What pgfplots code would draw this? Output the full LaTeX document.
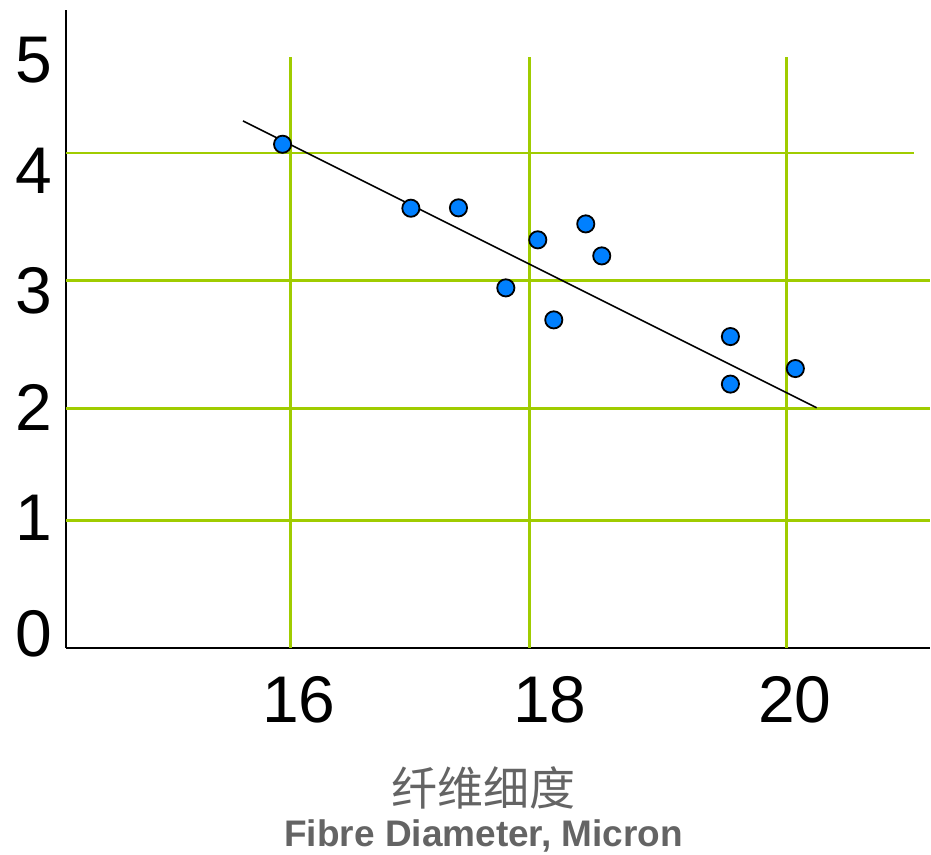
\documentclass[border=0pt]{standalone}
\usepackage{pgfplots}
\pgfplotsset{compat=1.18}
\usepackage{fontspec}
\setmainfont{Liberation Sans}
\newfontfamily\cjk{Noto Sans CJK SC}
\definecolor{gridgreen}{RGB}{160,204,0}
\definecolor{dotblue}{RGB}{0,128,255}
\definecolor{labgray}{RGB}{100,100,100}
\begin{document}
\begin{tikzpicture}
\begin{axis}[
  scale only axis,
  width=432pt, height=319pt,
  xmin=14.1855, xmax=21.153,
  ymin=0.1176, ymax=5.1216,
  axis lines*=left,
  axis line style={black, line width=1pt},
  clip=false,
  major tick length=0pt,
  /pgf/number format/assume math mode=true,
  ytick={4.729,3.859,2.918,2.0,1.137,0.227},
  yticklabels={5,4,3,2,1,0},
  xtick={16.065,18.089,20.065},
  xticklabels={16,18,20},
  ticklabel style={font=\fontsize{33}{36}\selectfont, inner sep=0pt},
  yticklabel style={anchor=east, xshift=-6.5pt},
  xticklabel style={anchor=north, yshift=-14pt},
]
% invisible frame: full picture extent
\path (axis cs:13.6532,-1.5059) rectangle (axis cs:21.1613,5.2);
% grid lines
\draw[gridgreen, line width=1.4pt] (axis cs:14.1855,4.0) -- (axis cs:21.03,4.0);
\draw[gridgreen, line width=1.4pt] (axis cs:14.1855,2.996) -- (axis cs:21.153,2.996);
\draw[gridgreen, line width=1.4pt] (axis cs:14.1855,1.992) -- (axis cs:21.153,1.992);
\draw[gridgreen, line width=1.4pt] (axis cs:14.1855,1.114) -- (axis cs:21.153,1.114);
\draw[gridgreen, line width=1.4pt] (axis cs:16,0.1176) -- (axis cs:16,4.753);
\draw[gridgreen, line width=1.4pt] (axis cs:17.927,0.1176) -- (axis cs:17.927,4.753);
\draw[gridgreen, line width=1.4pt] (axis cs:20,0.1176) -- (axis cs:20,4.753);
% trend line
\addplot[black, line width=0.8pt, no marks] coordinates {(15.613,4.251) (20.242,2.0)};
% data
\addplot[only marks, mark=*, mark size=4.3pt, mark options={fill=dotblue, draw=black, line width=0.9pt}] coordinates {
(15.933,4.068) (16.968,3.566) (17.352,3.569) (17.734,2.941) (17.992,3.318)
(18.121,2.690) (18.379,3.443) (18.508,3.192) (19.546,2.559) (19.546,2.186) (20.070,2.308)
};
\node[labgray, font=\cjk\fontsize{23}{26}\selectfont, inner sep=0pt] at (axis cs:17.556,-0.98) {纤维细度};
\node[labgray, font=\bfseries\fontsize{18.5}{21}\selectfont, inner sep=0pt] at (axis cs:17.556,-1.36) {Fibre Diameter, Micron};
\end{axis}
\end{tikzpicture}
\end{document}
